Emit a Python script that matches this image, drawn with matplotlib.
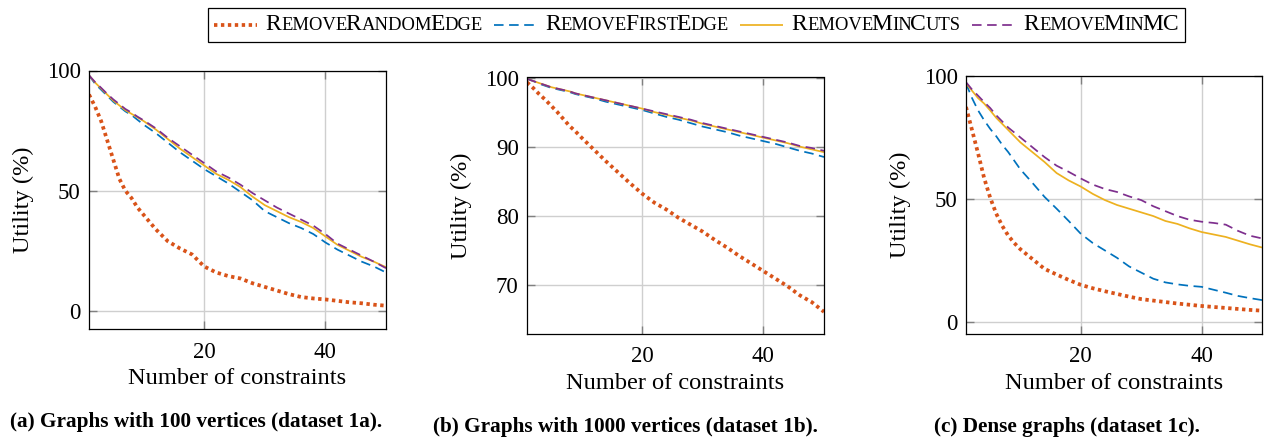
import matplotlib
matplotlib.use("Agg")
import matplotlib.pyplot as plt
from matplotlib.lines import Line2D
from matplotlib.offsetbox import TextArea, HPacker, DrawingArea, AnchoredOffsetbox

plt.rcParams['font.family'] = ['Liberation Serif', 'DejaVu Serif']

# ---------------- data ----------------
x = [1, 2, 3, 4, 5, 6, 7, 8, 9, 10, 12, 14, 16, 18, 20, 22, 24, 26, 28, 30,
     32, 34, 36, 38, 40, 42, 44, 46, 48, 50]

series_names = ["RemoveRandomEdge", "RemoveFirstEdge", "RemoveMinCuts", "RemoveMinMC"]

# (a) 100 vertices
a_random = [90, 85, 79, 71, 63, 55, 50, 47, 43, 40, 34, 29, 26, 23.5, 18.5, 16, 14.5, 13.5,
            11.5, 10, 8.5, 7, 5.8, 5.2, 4.8, 4.2, 3.6, 3.2, 2.6, 2.2]
a_first = [98, 94.5, 92, 89.5, 87, 85, 83, 81.5, 79.5, 77.5, 74, 70, 66, 62.5, 59, 56, 53,
           49.5, 46, 41.5, 39, 36.5, 34.5, 32, 28.5, 25.5, 23, 20.5, 18.5, 16]
a_mincuts = [98, 95, 92.5, 90, 87.5, 85.5, 83.5, 82, 80.5, 79, 75.5, 71.5, 67.5, 64, 60.5, 57,
             54.5, 51.5, 47.5, 44, 41.5, 39, 37, 34.5, 31, 27.5, 25, 22.5, 20.5, 18.2]
a_minmc = [98, 95.2, 92.8, 90.3, 88, 86, 84, 82.5, 80.8, 79.3, 76, 72, 68.5, 65, 61.5, 58,
           55.5, 52.5, 49, 46, 43, 40.5, 38, 35.5, 32, 28, 25.5, 23, 20.5, 17.8]

# (b) 1000 vertices
b_random = [99.3, 98.5, 97.6, 96.8, 95.9, 95.0, 94.0, 93.0, 92.2, 91.3, 89.6, 87.9, 86.3, 84.7,
            83.2, 81.9, 80.9, 79.7, 78.7, 77.7, 76.5, 75.4, 74.2, 73.1, 72.0, 70.9, 69.8, 68.5,
            67.5, 66.1]
b_first = [99.8, 99.5, 99.1, 98.8, 98.5, 98.3, 98.1, 97.9, 97.6, 97.4, 97.0, 96.5, 96.1, 95.7,
           95.3, 94.8, 94.3, 93.9, 93.4, 92.9, 92.5, 92.1, 91.6, 91.2, 90.8, 90.4, 89.9, 89.4,
           89.0, 88.5]
b_mincuts = [99.8, 99.5, 99.2, 98.9, 98.6, 98.4, 98.2, 98.0, 97.7, 97.5, 97.1, 96.7, 96.3, 95.9,
             95.5, 95.0, 94.6, 94.2, 93.8, 93.3, 92.9, 92.5, 92.1, 91.7, 91.3, 90.9, 90.5, 90.0,
             89.6, 89.2]
b_minmc = [99.8, 99.5, 99.2, 98.9, 98.6, 98.4, 98.2, 98.0, 97.7, 97.5, 97.1, 96.7, 96.3, 95.9,
           95.5, 95.1, 94.7, 94.3, 93.9, 93.4, 93.0, 92.6, 92.2, 91.8, 91.4, 91.0, 90.6, 90.1,
           89.8, 89.4]

# (c) dense graphs
c_random = [87.4, 78, 68.5, 58.5, 50.5, 44, 39, 35, 32, 29.5, 25.5, 21.5, 19.2, 17, 15, 13.6,
            12.4, 11.3, 10.2, 9.2, 8.6, 8, 7.4, 6.9, 6.4, 6, 5.6, 5.2, 4.8, 4.5]
c_first = [97, 91, 86, 82, 78.5, 75.5, 72, 69, 65.5, 62, 56.5, 50.8, 46, 41, 35.8, 32, 29, 26,
           22.5, 20, 17.5, 16, 15.2, 14.6, 14.2, 13, 11.8, 10.5, 9.6, 8.8]
c_mincuts = [97, 94, 91, 88.8, 86, 83, 80.5, 78, 75.5, 73, 69, 65, 60.5, 57.5, 55, 52, 49.5,
             47.5, 46, 44.5, 43, 41, 39.8, 38, 36.5, 35.5, 34.5, 33, 31.5, 30.2]
c_minmc = [97.5, 94.5, 92, 89.4, 87, 84, 81.5, 79, 77, 75, 71, 67, 63.5, 61, 58.3, 55.8, 54,
           52.8, 51, 49.5, 47, 45, 43, 41.5, 40.7, 40.2, 39.5, 37, 35, 33.9]

captions = ["(a) Graphs with 100 vertices (dataset 1a).",
            "(b) Graphs with 1000 vertices (dataset 1b).",
            "(c) Dense graphs (dataset 1c)."]

# ---------------- style ----------------
W, H = 1272, 442
fig = plt.figure(figsize=(W / 100, H / 100), dpi=100)

colors = ["#D95319", "#0072BD", "#EDB120", "#7E2F8E"]
styles = [
    dict(color=colors[0], lw=2.7, linestyle=(0, (0.9, 0.95))),
    dict(color=colors[1], lw=1.25, linestyle=(0, (5.5, 3.2))),
    dict(color=colors[2], lw=1.25, linestyle='-'),
    dict(color=colors[3], lw=1.25, linestyle=(0, (5.5, 3.2))),
]

TICK_FS = 16.5
LABEL_FS = 17.6

panels = [
    dict(box=(89, 70.5, 386, 329), data=[a_random, a_first, a_mincuts, a_minmc],
         ylim=(-7.5, 100), yticks=[0, 50, 100]),
    dict(box=(527, 77.5, 824, 334), data=[b_random, b_first, b_mincuts, b_minmc],
         ylim=(62.9, 100), yticks=[70, 80, 90, 100]),
    dict(box=(966, 76, 1262, 334), data=[c_random, c_first, c_mincuts, c_minmc],
         ylim=(-5, 100), yticks=[0, 50, 100]),
]
caption_pos = [(196, 422), (625, 427), (1067, 427)]

for p, cap, cpos in zip(panels, captions, caption_pos):
    l, t, r, b = p['box']
    ax = fig.add_axes([l / W, 1 - b / H, (r - l) / W, (b - t) / H])
    for ys, st in zip(p['data'], styles):
        ax.plot(x, ys, **st, solid_capstyle='butt', dash_capstyle='butt')
    ax.set_xlim(1, 50)
    ax.set_ylim(*p['ylim'])
    ax.set_xticks([20, 40])
    ax.set_yticks(p['yticks'])
    ax.grid(True, color='#cfcfcf', lw=1.0)
    ax.set_axisbelow(True)
    ax.tick_params(direction='in', length=6, width=1.0, color='#808080',
                   top=True, right=True, labelsize=TICK_FS)
    ax.tick_params(axis='x', pad=9)
    ax.tick_params(axis='y', pad=6)
    for s in ax.spines.values():
        s.set_linewidth(0.9)
        s.set_color('black')
    ax.set_xlabel("Number of constraints", fontsize=LABEL_FS, labelpad=4)
    ax.set_ylabel("Utility (%)", fontsize=LABEL_FS, labelpad=9)
    fig.text(cpos[0] / W, 1 - cpos[1] / H, cap, ha='center', va='center',
             fontsize=15.3, fontweight='bold')


# ---------------- legend with small caps ----------------
def small_caps(text, big=17.0, small=13.4):
    runs = []
    cur = text[0]
    for ch in text[1:]:
        if ch.isupper() == cur[-1].isupper():
            cur += ch
        else:
            runs.append(cur)
            cur = ch
    runs.append(cur)
    # group each capital run with the following lower-case run
    groups = []
    i = 0
    while i < len(runs):
        kids = [TextArea(runs[i], textprops=dict(fontsize=big))]
        if i + 1 < len(runs) and not runs[i + 1].isupper():
            kids.append(TextArea(runs[i + 1].upper(), textprops=dict(fontsize=small)))
            i += 2
        else:
            i += 1
        groups.append(HPacker(children=kids, sep=0, pad=0, align='baseline'))
    return HPacker(children=groups, sep=-1.4, pad=0, align='baseline')


items = []
for name, st in zip(series_names, styles):
    da = DrawingArea(31, 10, 0, 0)
    da.add_artist(Line2D([0, 31], [5, 5], **st, dash_capstyle='butt', solid_capstyle='butt'))
    items.append(HPacker(children=[da, small_caps(name)], sep=6, pad=0, align='center'))
row = HPacker(children=items, sep=8, pad=0, align='center')
anch = AnchoredOffsetbox(loc='center', child=row, pad=0.45, borderpad=0, frameon=True,
                         bbox_to_anchor=((208 + 1185) / 2 / W, 1 - 25 / H),
                         bbox_transform=fig.transFigure)
anch.patch.set_edgecolor('black')
anch.patch.set_linewidth(0.9)
anch.patch.set_boxstyle('square', pad=0)
fig.add_artist(anch)

fig.savefig("out.png", dpi=100)
